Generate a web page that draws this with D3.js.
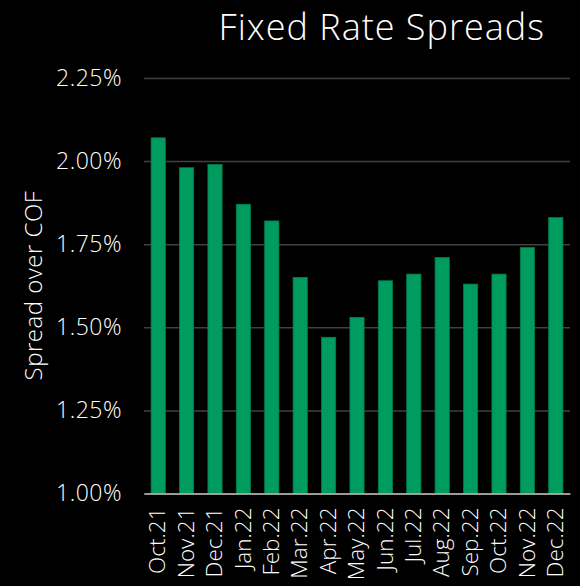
<!DOCTYPE html>
<html>
<head>
<meta charset="utf-8">
<script src="https://cdn.jsdelivr.net/npm/d3@7"></script>
<style>
  html, body { margin: 0; padding: 0; background: #000; }
  svg { display: block; }
  text { font-family: "Open Sans", Lato, sans-serif; font-weight: 300; fill: #fff; }
</style>
</head>
<body>
<svg id="chart" width="580" height="586"></svg>
<script>
// Monthly fixed rate spread over cost of funds (%)
const months = ["Oct.21", "Nov.21", "Dec.21", "Jan.22", "Feb.22", "Mar.22", "Apr.22",
                "May.22", "Jun.22", "Jul.22", "Aug.22", "Sep.22", "Oct.22", "Nov.22", "Dec.22"];
const spreads = [2.07, 1.98, 1.99, 1.87, 1.82, 1.65, 1.47, 1.53, 1.64, 1.66, 1.71, 1.63, 1.66, 1.74, 1.83];
const yTicks = [1.00, 1.25, 1.50, 1.75, 2.00, 2.25];

const svg = d3.select("#chart");
const margin = { top: 78, right: 10, bottom: 92.5, left: 144 };
const width = 580 - margin.left - margin.right;
const height = 586 - margin.top - margin.bottom;

const g = svg.append("g").attr("transform", `translate(${margin.left},${margin.top})`);

const x = d3.scaleBand().domain(months).range([0, width]).paddingInner(0.5).paddingOuter(0.25);
const y = d3.scaleLinear().domain([1.0, 2.25]).range([height, 0]);

// Horizontal gridlines with percentage labels
const yAxis = g.append("g")
  .call(d3.axisLeft(y).tickValues(yTicks).tickSize(-width).tickPadding(22)
    .tickFormat(d => d.toFixed(2) + "%"));
yAxis.select(".domain").remove();
yAxis.selectAll(".tick line").attr("stroke", "#404040").attr("stroke-width", 1.5);
yAxis.selectAll(".tick text")
  .style("font-size", "23px")
  .style("letter-spacing", "0.5px")
  .attr("fill", "#fff");

// Bars
g.selectAll("rect.bar")
  .data(spreads)
  .join("rect")
  .attr("class", "bar")
  .attr("x", (d, i) => x(months[i]))
  .attr("width", x.bandwidth())
  .attr("y", d => y(d))
  .attr("height", d => height - y(d))
  .attr("fill", "#009b5e")
  .attr("stroke", "#00804d")
  .attr("stroke-width", 0.75);

// Baseline and rotated month labels
const xAxis = g.append("g")
  .attr("transform", `translate(0,${height})`)
  .call(d3.axisBottom(x).tickSize(0).tickPadding(0));
xAxis.select(".domain").attr("stroke", "#bfbfbf").attr("stroke-width", 1.5);
xAxis.selectAll(".tick text")
  .style("font-size", "22.5px")
  .attr("fill", "#fff")
  .attr("text-anchor", "end")
  .attr("transform", "rotate(-90)")
  .attr("x", -14)
  .attr("y", 0)
  .attr("dy", "0.32em");

// Axis title
svg.append("text")
  .attr("transform", "translate(42,285.5) rotate(-90)")
  .attr("text-anchor", "middle")
  .style("font-size", "24px")
  .style("letter-spacing", "0.5px")
  .text("Spread over COF");

// Chart title
svg.append("text")
  .attr("x", 545)
  .attr("y", 39.5)
  .attr("text-anchor", "end")
  .style("font-size", "36px")
  .style("letter-spacing", "1px")
  .text("Fixed Rate Spreads");
</script>
</body>
</html>
